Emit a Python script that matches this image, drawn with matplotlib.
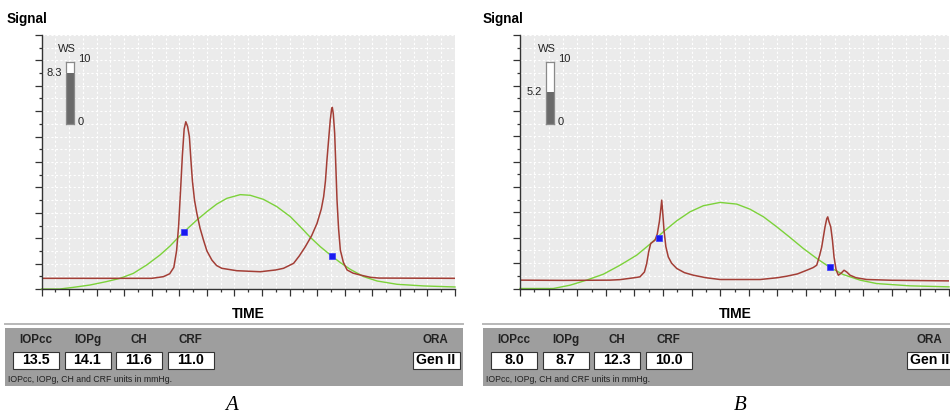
"""
Two ORA waveform screenshots (A and B) redrawn: applanation signal (red),
pressure (green), applanation points (blue) with WS gauge and the IOP box.
"""

import matplotlib
matplotlib.use("Agg")
import matplotlib.pyplot as plt
import matplotlib.transforms as mtransforms
from matplotlib.patches import Rectangle
from matplotlib.ticker import MultipleLocator

plt.rcParams["font.family"] = ["Liberation Sans", "DejaVu Sans"]

W, H = 950, 417

# ---- panel A -------------------------------------------------------------
A_RED_X = [0, 8.0, 8.84, 9.3, 9.6, 9.8, 9.95, 10.1, 10.22, 10.35, 10.47,
           10.6, 10.73, 10.85, 10.95, 11.1, 11.27, 11.5, 11.75, 12.0, 12.36,
           12.7, 13.08, 14.17, 15.87, 17.0, 17.56, 18.29, 18.7, 19.14, 19.6,
           19.99, 20.3, 20.47, 20.6, 20.71, 20.85, 20.95, 21.05, 21.1, 21.17,
           21.27, 21.35, 21.44, 21.55, 21.68, 21.9, 22.17, 22.6, 23.13, 23.86,
           24.5, 30]
A_RED_Y = [0.84, 0.84, 0.97, 1.2, 1.7, 3.0, 5.0, 8.0, 10.5, 12.6, 13.17,
           12.8, 11.99, 10.0, 8.5, 7.0, 5.96, 4.8, 3.86, 3.0, 2.28,
           1.85, 1.63, 1.44, 1.36, 1.5, 1.63, 2.02, 2.6, 3.33, 4.2,
           5.17, 6.3, 7.27, 8.5, 10.16, 12.0, 13.3, 14.2, 14.3, 13.8,
           12.26, 9.8, 7.0, 4.8, 3.07, 2.1, 1.5, 1.25, 1.1, 0.92,
           0.86, 0.84]
A_GREEN_X = [0, 1.33, 2.3, 3.5, 4.7, 5.7, 6.66, 7.63, 8.6, 9.33, 9.93, 10.54,
             11.27, 12.0, 12.72, 13.45, 14.42, 15.14, 16.1, 17.08, 18.05,
             18.78, 19.5, 20.23, 20.96, 21.69, 22.4, 23.38, 24.35, 25.8,
             27.74, 30]
A_GREEN_Y = [0, 0, 0.13, 0.31, 0.58, 0.84, 1.23, 1.89, 2.68, 3.39, 4.07, 4.7,
             5.43, 6.09, 6.69, 7.14, 7.43, 7.38, 7.06, 6.48, 5.7,
             4.9, 4.07, 3.33, 2.68, 2.07, 1.55, 0.97, 0.63, 0.37,
             0.24, 0.16]
A_DOTS_X = [10.37, 21.08]
A_DOTS_Y = [4.46, 2.62]
A_WS = 8.3
A_VALUES = ["13.5", "14.1", "11.6", "11.0"]

# ---- panel B -------------------------------------------------------------
B_RED_X = [0, 3, 6.3, 7.0, 8.0, 8.39, 8.7, 8.86, 9.0, 9.14, 9.44, 9.6, 9.75,
           9.85, 9.91, 9.98, 10.07, 10.2, 10.37, 10.6, 10.96, 11.5, 12.12,
           13.0, 13.99, 16.8, 18.0, 18.65, 19.4, 20.05, 20.5, 20.75, 20.95,
           21.1, 21.33, 21.45, 21.52, 21.6, 21.73, 21.85, 21.96, 22.1, 22.26,
           22.45, 22.66, 22.85, 23.08, 23.5, 24.24, 26, 30]
B_RED_Y = [0.66, 0.64, 0.66, 0.7, 0.85, 0.92, 1.3, 1.97, 2.9, 3.55, 3.81, 4.3,
           5.3, 6.3, 6.97, 6.0, 4.6, 3.3, 2.49, 2.0, 1.58, 1.25, 1.05,
           0.85, 0.71, 0.71, 0.85, 0.97, 1.15, 1.44, 1.65, 1.84, 2.6,
           3.28, 4.86, 5.5, 5.65, 5.3, 4.86, 3.8, 2.49, 1.5, 1.05,
           1.2, 1.44, 1.3, 1.05, 0.85, 0.71, 0.65, 0.6]
B_GREEN_X = [0, 2.33, 3.5, 4.66, 5.83, 7.0, 8.16, 9.09, 10.02, 10.96, 11.89,
             12.82, 13.99, 15.15, 16.08, 17.02, 17.95, 18.88, 19.81, 20.75,
             21.68, 22.61, 23.78, 24.94, 27.27, 30]
B_GREEN_Y = [0, 0, 0.26, 0.66, 1.13, 1.84, 2.63, 3.5, 4.47, 5.34, 6.05,
             6.53, 6.79, 6.66, 6.26, 5.66, 4.87, 4.03, 3.16, 2.37,
             1.66, 1.1, 0.66, 0.39, 0.21, 0.13]
B_DOTS_X = [9.74, 21.68]
B_DOTS_Y = [3.95, 1.72]
B_WS = 5.2
B_VALUES = ["8.0", "8.7", "12.3", "10.0"]

INFO_LABELS = ["IOPcc", "IOPg", "CH", "CRF"]
MODEL = "Gen II"
FOOTNOTE = "IOPcc, IOPg, CH and CRF units in mmHg."

RED = "#a33e36"
GREEN = "#7cd23a"
BLUE = "#1a1af0"
PLOT_BG = "#ebebeb"
PANEL_GRAY = "#9e9e9e"
DARK = "#222222"


def px_axes(fig, x0, y0, x1, y1):
    """Add axes from pixel box (top-left origin)."""
    return fig.add_axes([x0 / W, 1 - y1 / H, (x1 - x0) / W, (y1 - y0) / H])


def draw_signal(ax, red_x, red_y, green_x, green_y, dots_x, dots_y):
    ax.set_facecolor(PLOT_BG)
    ax.set_xlim(0, 30)
    ax.set_ylim(0, 20)
    for axis in (ax.xaxis, ax.yaxis):
        axis.set_major_locator(MultipleLocator(2))
        axis.set_minor_locator(MultipleLocator(1))
    ax.tick_params(which="major", length=5, width=0.9, color="#333333",
                   labelbottom=False, labelleft=False)
    ax.tick_params(which="minor", length=2.5, width=0.9, color="#333333")
    ax.grid(which="both", color="white", linestyle=(0, (2, 2)), linewidth=0.8)
    for side in ("top", "right"):
        ax.spines[side].set_visible(False)
    for side in ("left", "bottom"):
        ax.spines[side].set_color("#333333")
        ax.spines[side].set_linewidth(1.0)
    ax.plot(green_x, green_y, color=GREEN, linewidth=1.0, clip_on=False)
    ax.plot(red_x, red_y, color=RED, linewidth=1.1)
    ax.plot(dots_x, dots_y, "s", color=BLUE, markersize=4.5,
            markeredgecolor="#3a3aff", markeredgewidth=0.5, zorder=4)


def draw_gauge(fig, x0, ws):
    gax = px_axes(fig, x0, 62, x0 + 8, 124)
    gax.set_xlim(0, 1)
    gax.set_ylim(0, 10)
    gax.set_facecolor("white")
    gax.bar(0.5, ws, width=1.0, color="#6a6a6a")
    gax.set_xticks([])
    gax.set_yticks([])
    for sp in gax.spines.values():
        sp.set_color("#8a8a8a")
        sp.set_linewidth(0.9)
    kw = dict(fontsize=8, color=DARK)
    gax.text(0.1, 1.21, "WS", transform=gax.transAxes, ha="center", va="center", **kw)
    gax.text(1.45, 1.05, "10", transform=gax.transAxes, ha="left", va="center", **kw)
    gax.text(1.45, 0.03, "0", transform=gax.transAxes, ha="left", va="center", **kw)
    trans = mtransforms.blended_transform_factory(gax.transAxes, gax.transData)
    gax.text(-0.5, ws, f"{ws:.1f}", transform=trans, ha="right", va="center", **kw)


def draw_info(ov, x0, x1, values, ora_x):
    ov.plot([x0, x1], [324, 324], color="#b8b8b8", linewidth=1.4)
    ov.add_patch(Rectangle((x0, 327.5), x1 - x0, 58, facecolor=PANEL_GRAY,
                           edgecolor="none"))
    for i, (lab, val) in enumerate(zip(INFO_LABELS, values)):
        cx = x0 + 31 + 51.5 * i
        ov.text(cx, 340, lab, ha="center", va="center", fontsize=8.4,
                fontweight="bold", color=DARK)
        ov.add_patch(Rectangle((cx - 23, 352), 46, 16.5, facecolor="white",
                               edgecolor="#333333", linewidth=0.8))
        ov.text(cx, 360.5, val, ha="center", va="center", fontsize=10.2,
                fontweight="bold", color="black")
    ov.text(x0 + 3, 379, FOOTNOTE, ha="left", va="center", fontsize=6.3,
            color=DARK)
    ov.text(ora_x, 340, "ORA", ha="center", va="center", fontsize=8.4,
            fontweight="bold", color=DARK)
    ov.add_patch(Rectangle((ora_x - 22, 352), 47, 16.5, facecolor="white",
                           edgecolor="#333333", linewidth=0.8))
    ov.text(ora_x - 19, 360.5, MODEL, ha="left", va="center", fontsize=10.2,
            fontweight="bold", color="black")


def main():
    fig = plt.figure(figsize=(W / 100, H / 100), dpi=100)
    fig.patch.set_facecolor("white")

    ax_a = px_axes(fig, 41.5, 35, 455, 289)
    draw_signal(ax_a, A_RED_X, A_RED_Y, A_GREEN_X, A_GREEN_Y, A_DOTS_X, A_DOTS_Y)
    ax_b = px_axes(fig, 520, 35, 949, 288.5)
    draw_signal(ax_b, B_RED_X, B_RED_Y, B_GREEN_X, B_GREEN_Y, B_DOTS_X, B_DOTS_Y)

    draw_gauge(fig, 66, A_WS)
    draw_gauge(fig, 546, B_WS)

    # overlay in pixel coordinates for the screenshot furniture
    ov = fig.add_axes([0, 0, 1, 1])
    ov.set_xlim(0, W)
    ov.set_ylim(H, 0)
    ov.axis("off")
    ov.patch.set_alpha(0)

    for x, cx in ((7, 248), (483, 735)):
        ov.text(x, 19, "Signal", ha="left", va="center", fontsize=9.8,
                fontweight="bold", color="black")
        ov.text(cx, 314, "TIME", ha="center", va="center", fontsize=10,
                fontweight="bold", color="black")

    draw_info(ov, 5, 463, A_VALUES, 435)
    draw_info(ov, 483, 966, B_VALUES, 929)

    for cx, lab in ((232, "A"), (740, "B")):
        ov.text(cx, 406, lab, ha="center", va="center", fontsize=15,
                style="italic", family=["Liberation Serif", "DejaVu Serif"],
                color="black")

    fig.savefig("out.png", dpi=100)
    plt.close(fig)


if __name__ == "__main__":
    main()
